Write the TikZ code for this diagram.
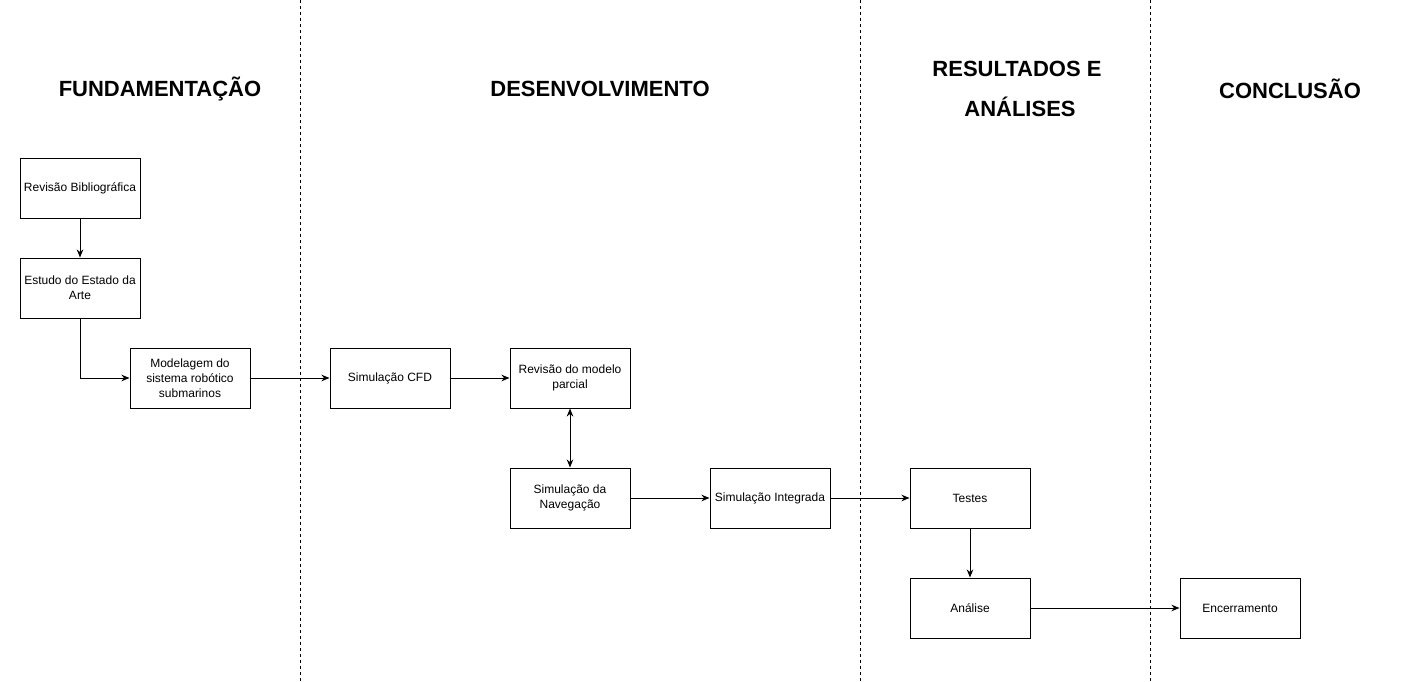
\documentclass[tikz,border=0pt]{standalone}
\usepackage{fontspec}
\setmainfont{Liberation Sans}
\usetikzlibrary{arrows.meta}
\begin{document}
\begin{tikzpicture}[x=1pt,y=-1pt,
  box/.style={draw,line width=1pt,minimum width=120pt,minimum height=60pt,inner sep=0pt,align=center,font=\fontsize{12}{15}\selectfont},
  hdr/.style={align=center,font=\fontsize{22}{40}\selectfont\bfseries},
  sep/.style={line width=0.9pt,dash pattern=on 3pt off 3pt},
  conn/.style={line width=1pt,-{Stealth[length=8pt,width=6.5pt,inset=2.5pt]}},
  conn2/.style={line width=1pt,{Stealth[length=8pt,width=6.5pt,inset=2.5pt]}-{Stealth[length=8pt,width=6.5pt,inset=2.5pt]}}]
\useasboundingbox (0,0) rectangle (1424,682);
% separators
\coordinate (s1t) at (300,0); \coordinate (s1b) at (300,682);
\coordinate (s2t) at (860,0); \coordinate (s2b) at (860,682);
\coordinate (s3t) at (1150,0); \coordinate (s3b) at (1150,682);
\draw[sep] (s1t) -- (s1b);
\draw[sep] (s2t) -- (s2b);
\draw[sep] (s3t) -- (s3b);
% headers
\node[hdr] (h1) at (160,89) {FUNDAMENTAÇÃO};
\node[hdr] (h2) at (600,89) {DESENVOLVIMENTO};
\node[hdr] (h3) at (1020,89) {RESULTADOS E\hspace*{6pt}\\ANÁLISES};
\node[hdr] (h4) at (1290,89) {CONCLUSÃO};
% boxes
\node[box] (rb) at (80,188) {Revisão Bibliográfica};
\node[box] (ea) at (80,288) {Estudo do Estado da\\Arte};
\node[box] (mod) at (190,378) {Modelagem do\\sistema robótico\\submarinos};
\node[box] (cfd) at (390,378) {Simulação CFD};
\node[box] (rev) at (570,378) {Revisão do modelo\\parcial};
\node[box] (nav) at (570,498) {Simulação da\\Navegação};
\node[box] (int) at (770,498) {Simulação Integrada};
\node[box] (tes) at (970,498) {Testes};
\node[box] (ana) at (970,608) {Análise};
\node[box] (enc) at (1240,608) {Encerramento};
% connectors
\draw[conn] (rb) -- (ea);
\draw[conn] (ea.south) |- (mod.west);
\draw[conn] (mod) -- (cfd);
\draw[conn] (cfd) -- (rev);
\draw[conn2] (rev) -- (nav);
\draw[conn] (nav) -- (int);
\draw[conn] (int) -- (tes);
\draw[conn] (tes) -- (ana);
\draw[conn] (ana) -- (enc);
\end{tikzpicture}
\end{document}
